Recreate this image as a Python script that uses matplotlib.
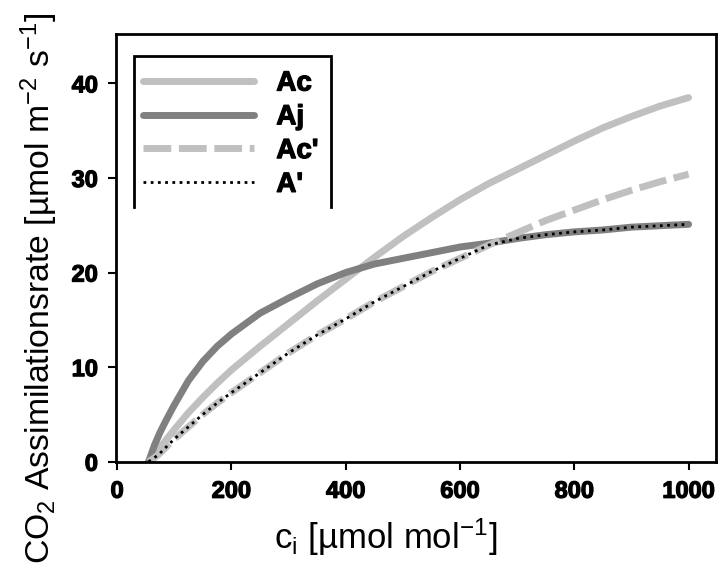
import matplotlib
matplotlib.use("Agg")
import matplotlib.pyplot as plt
from matplotlib.lines import Line2D
import matplotlib.patheffects as pe

# ---- data ----
ci = [55, 65, 75, 85, 100, 125, 150, 175, 200, 250, 300, 350, 400, 450, 500,
      550, 600, 650, 700, 750, 800, 850, 900, 950, 1000]
Ac = [0.0, 0.75, 1.5, 2.25, 3.4, 5.2, 6.8, 8.3, 9.7, 12.2, 14.6, 17.0, 19.3, 21.6, 23.8,
      25.8, 27.7, 29.4, 30.9, 32.4, 33.9, 35.3, 36.5, 37.6, 38.5]
Aj = [0.0, 1.7, 3.1, 4.3, 6.0, 8.6, 10.6, 12.2, 13.5, 15.7, 17.3, 18.8, 20.0, 20.9, 21.5,
      22.1, 22.7, 23.1, 23.6, 24.0, 24.3, 24.5, 24.8, 24.95, 25.1]
Ac_p = [0.0, 0.4, 0.9, 1.5, 2.4, 3.7, 5.0, 6.2, 7.3, 9.4, 11.5, 13.4, 15.1, 16.9, 18.5,
        20.1, 21.5, 22.9, 24.2, 25.5, 26.6, 27.7, 28.7, 29.6, 30.4]
A_p = [0.0, 0.4, 0.9, 1.5, 2.4, 3.7, 5.0, 6.2, 7.3, 9.4, 11.5, 13.4, 15.1, 16.9, 18.5,
       20.1, 21.5, 22.9, 23.6, 24.0, 24.3, 24.5, 24.8, 24.95, 25.1]
labels = ["Ac", "Aj", "Ac'", "A'"]
xticks = [0, 200, 400, 600, 800, 1000]
yticks = [0, 10, 20, 30, 40]

plt.rcParams['font.family'] = ['Liberation Sans', 'DejaVu Sans']
plt.rcParams['mathtext.fontset'] = 'custom'
plt.rcParams['mathtext.rm'] = 'Liberation Sans'
plt.rcParams['mathtext.it'] = 'Liberation Sans'

W, H = 725, 570
fig = plt.figure(figsize=(W / 100, H / 100), dpi=100)
ax = fig.add_axes([0.160, 0.190, 0.8276, 0.750])

lw = 5
l1, = ax.plot(ci, Ac, color='#c0c0c0', lw=lw, solid_capstyle='round', label=labels[0])
l2, = ax.plot(ci, Aj, color='#808080', lw=lw, solid_capstyle='round', label=labels[1])
l3, = ax.plot(ci, Ac_p, color='#c0c0c0', lw=lw, dashes=(4.0, 1.1), dash_capstyle='butt', label=labels[2])
l4, = ax.plot(ci, A_p, color='black', lw=2.0, dashes=(1, 1.6), label=labels[3])

ax.set_xlim(-2, 1048)
ax.set_ylim(0, 45.2)
ax.set_xticks(xticks)
ax.set_yticks(yticks)
for s in ax.spines.values():
    s.set_linewidth(2)
ax.tick_params(direction='out', length=6, width=1.5, pad=7)
heavy = [pe.withStroke(linewidth=0.9, foreground='black')]
for t in ax.get_xticklabels() + ax.get_yticklabels():
    t.set_fontsize(17)
    t.set_fontweight('bold')
    t.set_path_effects(heavy)

ax.set_xlabel(r'c$_\mathregular{i}$ [µmol mol$^\mathregular{-1}$]', fontsize=25)
ax.xaxis.set_label_coords(0.45, -0.128)
ylab = ax.set_ylabel(r'CO$_\mathregular{2}$ Assimilationsrate [µmol m$^\mathregular{-2}$ s$^\mathregular{-1}$]',
                     fontsize=21)

leg = ax.legend(handles=[l1, l2, l3, l4], loc='upper left', bbox_to_anchor=(0.045, 0.915),
                frameon=False, borderpad=0, borderaxespad=0, handlelength=4.0,
                handletextpad=0.8, labelspacing=0.28, prop={'size': 20, 'weight': 'bold'})
for t in leg.get_texts():
    t.set_path_effects(heavy)

# three-sided legend frame (no bottom edge)
frame = Line2D([0.030, 0.030, 0.358, 0.358], [0.595, 0.9485, 0.9485, 0.595],
               transform=ax.transAxes, color='black', lw=2, solid_joinstyle='miter')
ax.add_line(frame)

# fit the y label to the span it has in the reference (pixels 10..566, right edge ~60)
fig.canvas.draw()
bb = ylab.get_window_extent()
ylab.set_fontsize(21 * 550 / bb.height)
ax_h = 0.750 * H
ax_w = 0.8276 * W
ax.yaxis.set_label_coords((60 - 116) / ax_w, (461.5 - 288) / ax_h)

fig.savefig('out.png', dpi=100)
